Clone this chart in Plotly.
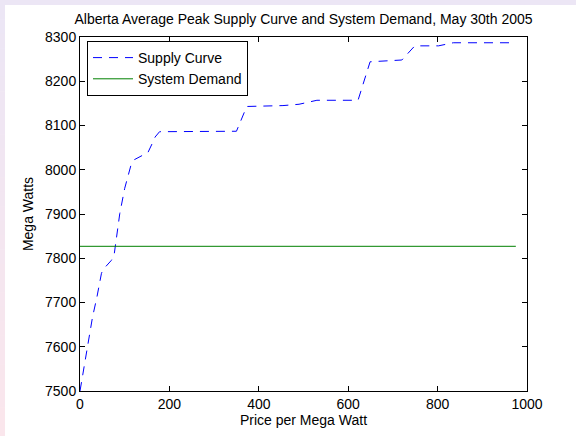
import plotly.graph_objects as go

# Supply curve (price per MW vs MW)
supply_price = [0, 16, 28, 38, 48, 52, 70, 76, 79, 89, 100, 115, 122, 152, 160, 168, 178,
                350, 373, 454, 490, 530, 622, 649, 720, 749, 802, 835, 967]
supply_mw = [7500, 7592, 7667, 7713, 7766, 7775, 7795, 7805, 7826, 7901, 7958, 8014, 8023,
             8039, 8056, 8074, 8086, 8087, 8143, 8145, 8148, 8157, 8157, 8244, 8248, 8280,
             8280, 8287, 8287]

# System demand
demand_price = [0, 975]
demand_mw = [7827, 7827]

x_ticks = [0, 200, 400, 600, 800, 1000]
y_ticks = [7500, 7600, 7700, 7800, 7900, 8000, 8100, 8200, 8300]

FONT = "Liberation Sans, Arial, Helvetica, sans-serif"
FS = 14
W, H = 576, 436
L, R, T, B = 80, 49, 37, 45
pw, ph = W - L - R, H - T - B

fig = go.Figure()
fig.add_trace(go.Scatter(x=supply_price, y=supply_mw, mode="lines", name="Supply Curve",
                         line=dict(color="#0000FF", width=1, dash="9px,7px")))
fig.add_trace(go.Scatter(x=demand_price, y=demand_mw, mode="lines", name="System Demand",
                         line=dict(color="#008000", width=1)))

def px2x(px):
    return (px - L) / pw

def py2y(py):
    return (H - B - py) / ph

shapes = []
# top lavender strip
shapes.append(dict(type="rect", xref="paper", yref="paper", x0=px2x(0), x1=px2x(W),
                   y0=py2y(5), y1=py2y(0), fillcolor="rgb(236,230,245)", line=dict(width=0),
                   layer="below"))
# left gradient strip
n = 30
c0 = (236, 230, 245)
c1 = (250, 230, 236)
for i in range(n):
    t = i / (n - 1)
    col = tuple(round(c0[k] + (c1[k] - c0[k]) * t) for k in range(3))
    y0p = 5 + (H - 5) * i / n
    y1p = 5 + (H - 5) * (i + 1) / n
    shapes.append(dict(type="rect", xref="paper", yref="paper", x0=px2x(0), x1=px2x(5),
                       y0=py2y(y1p + 0.5), y1=py2y(y0p), fillcolor="rgb(%d,%d,%d)" % col,
                       line=dict(width=0), layer="below"))

axis_common = dict(showgrid=False, zeroline=False, showline=True, mirror="ticks",
                   linecolor="black", linewidth=1, ticks="inside", ticklen=5,
                   tickcolor="black", automargin=False,
                   tickfont=dict(family=FONT, size=FS, color="black"))

fig.update_layout(
    width=W, height=H,
    margin=dict(l=L, r=R, t=T, b=B, pad=0),
    paper_bgcolor="white", plot_bgcolor="white",
    shapes=shapes,
    title=dict(text="Alberta Average Peak Supply Curve and System Demand, May 30th 2005",
               x=(L + pw / 2) / W, xanchor="center",
               y=1 - 19 / H, yanchor="middle",
               font=dict(family=FONT, size=FS, color="black")),
    xaxis=dict(range=[0, 1000], tickvals=x_ticks, ticktext=[str(v) for v in x_ticks],
               title=dict(text="Price per Mega Watt", font=dict(family=FONT, size=FS, color="black"),
                          standoff=2),
               **axis_common),
    yaxis=dict(range=[7500, 8300], tickvals=y_ticks, ticktext=[str(v) for v in y_ticks],
               title=dict(text="Mega Watts", font=dict(family=FONT, size=FS, color="black"),
                          standoff=8),
               **axis_common),
    legend=dict(x=px2x(87), y=py2y(41), xanchor="left", yanchor="top",
                bgcolor="white", bordercolor="black", borderwidth=1,
                font=dict(family=FONT, size=FS, color="black"),
                tracegroupgap=0, itemwidth=40),
    showlegend=True,
)

fig.write_html("out.html", config={"displayModeBar": False},
               post_script="document.body.style.margin='0';document.body.style.padding='0';"
                           "document.body.style.overflow='hidden';")
